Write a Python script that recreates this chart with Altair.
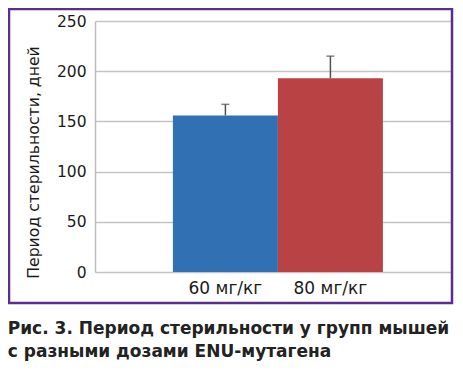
import altair as alt
import pandas as pd

groups = ["60 мг/кг", "80 мг/кг"]
means = [156, 193]
errors = [11, 22]
colors = ["#3070b3", "#b84244"]
y_ticks = [0, 50, 100, 150, 200, 250]
y_title = "Период стерильности, дней"
caption = ["Рис. 3. Период стерильности у групп мышей", "с разными дозами ENU-мутагена"]

df = pd.DataFrame({"group": groups, "mean": means, "err": errors})
df["upper"] = df["mean"] + df["err"]

FONT = "DejaVu Sans"

xscale = alt.Scale(paddingInner=0, paddingOuter=0.7, align=0.53)
x = alt.X("group:N", sort=groups, scale=xscale,
          axis=alt.Axis(title=None, labelAngle=0, domain=False, ticks=False,
                        labelPadding=8, labelFontSize=17, labelFont=FONT,
                        labelColor="#1a1a1a", grid=False))

yscale = alt.Scale(domain=[0, 250], nice=False)

bars = alt.Chart(df).mark_bar(stroke=None).encode(
    x=x,
    y=alt.Y("mean:Q", scale=yscale,
            axis=alt.Axis(values=y_ticks, title=y_title, domain=True, domainColor="#bdbdbd",
                          domainWidth=1.5, ticks=False, labelPadding=9, labelFontSize=15.5,
                          labelFont=FONT, labelColor="#1a1a1a", grid=True, gridColor="#c4c4c4",
                          gridWidth=1.5, titleFont=FONT, titleFontSize=15.7, titleFontWeight="normal",
                          titleColor="#1a1a1a", titleAngle=270, titleX=-62, titleY=141,
                          titleAlign="center", titleBaseline="middle")),
    color=alt.Color("group:N", scale=alt.Scale(domain=groups, range=colors), legend=None),
)

rules = alt.Chart(df).mark_rule(color="#505050", strokeWidth=1.5).encode(
    x=alt.X("group:N", sort=groups), y=alt.Y("mean:Q", scale=yscale), y2="upper:Q"
)

caps = alt.Chart(df).mark_tick(color="#505050", thickness=1.5, size=8).encode(
    x=alt.X("group:N", sort=groups), y=alt.Y("upper:Q", scale=yscale)
)

border = alt.Chart(alt.Data(values=[{}])).mark_rect(
    fill=None, stroke="#5b2d8e", strokeWidth=2.5, clip=False
).encode(x=alt.value(-86), x2=alt.value(357), y=alt.value(-12), y2=alt.value(282))

chart = alt.layer(bars, rules, caps, border).properties(
    width=357, height=251,
    autosize=alt.AutoSizeParams(type="none"),
    padding={"left": 87, "top": 13, "right": 2, "bottom": 89},
    background="white",
    title=alt.TitleParams(text=caption, orient="bottom", anchor="start", fontSize=17,
                          fontWeight="bold", font=FONT, color="#222222", lineHeight=23,
                          offset=17),
).configure_view(stroke=None)

chart.save("out.html", embed_options={"renderer": "svg", "actions": False})
